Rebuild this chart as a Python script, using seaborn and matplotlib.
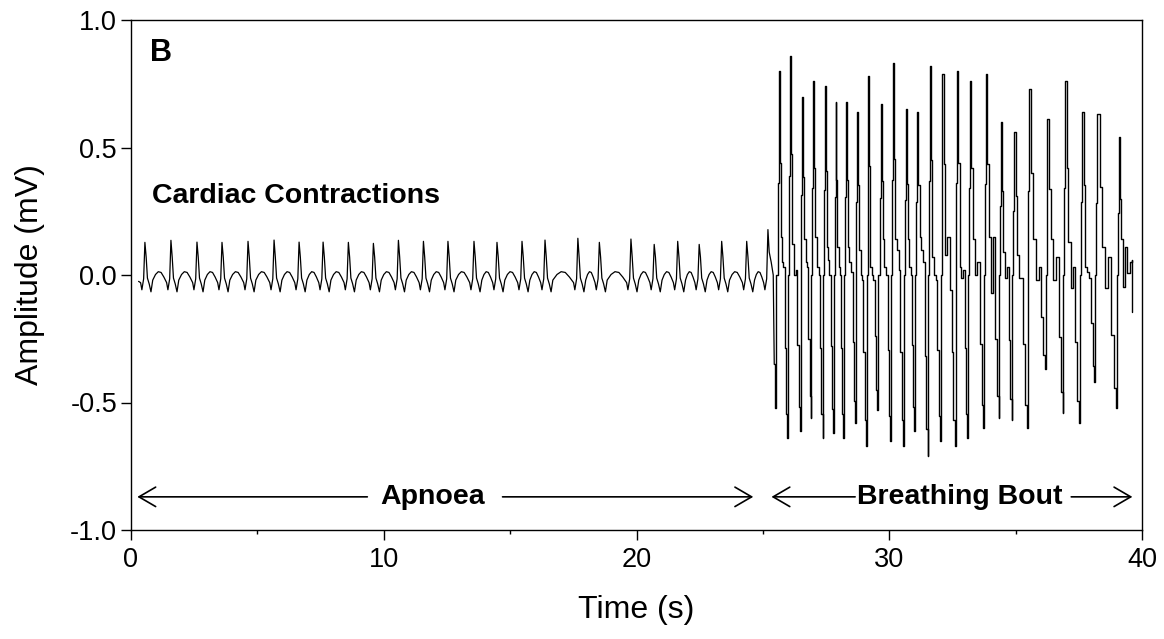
import numpy as np
import pandas as pd
import matplotlib
matplotlib.use("Agg")
import matplotlib.pyplot as plt
import seaborn as sns

# ---------------- data ----------------
# Apnoea: cardiac contraction spikes
beat_t = [0.55, 1.58, 2.61, 3.60, 4.63, 5.66, 6.65, 7.60, 8.60, 9.59, 10.58, 11.57,
          12.54, 13.57, 14.48, 15.47, 16.38, 17.68, 18.53, 19.78, 20.70, 21.63,
          22.48, 23.37, 24.36, 25.20]
beat_peak = [0.128, 0.136, 0.129, 0.128, 0.132, 0.137, 0.129, 0.129, 0.128, 0.124,
             0.136, 0.132, 0.132, 0.132, 0.128, 0.132, 0.137, 0.144, 0.128, 0.141,
             0.120, 0.132, 0.120, 0.132, 0.132, 0.178]
# shape of one beat (offsets in s from the spike, amplitudes in mV)
pre_off = [-0.17, -0.12, -0.05]
pre_val = [-0.030, -0.058, -0.015]
post_off = [0.05, 0.10, 0.17, 0.24, 0.31]
post_val = [0.070, -0.012, -0.035, -0.066, -0.020]
hump_frac = [0.2, 0.4, 0.6, 0.8]
hump_val = [0.002, 0.013, 0.010, -0.008]
start_t, start_v = 0.30, -0.025
# transition from last cardiac spike into breathing
trans_t = [25.25, 25.33, 25.41, 25.45]
trans_v = [0.09, 0.05, 0.0, -0.35]

# Breathing bout: troughs before each breath, peaks, and levels during fall
trough_t = [25.475, 25.937, 26.464, 26.887, 27.362, 27.757, 28.177, 28.639, 29.066,
            29.521, 30.036, 30.538, 30.993, 31.515, 32.002, 32.595, 33.081, 33.715,
            34.327, 34.838, 35.443, 36.175, 36.855, 37.512, 38.101, 38.964]
trough_v = [-0.52, -0.64, -0.61, -0.56, -0.64, -0.62, -0.64, -0.58, -0.67, -0.53,
            -0.65, -0.67, -0.61, -0.71, -0.65, -0.67, -0.64, -0.60, -0.56, -0.57,
            -0.60, -0.37, -0.54, -0.58, -0.42, -0.52]
peak_t = [25.645, 26.068, 26.555, 26.990, 27.453, 27.876, 28.283, 28.730, 29.173,
          29.656, 30.154, 30.645, 31.104, 31.606, 32.100, 32.686, 33.176, 33.821,
          34.415, 34.937, 35.534, 36.254, 36.954, 37.638, 38.232, 39.090]
peak_v = [0.80, 0.86, 0.70, 0.76, 0.74, 0.68, 0.68, 0.64, 0.78, 0.67, 0.83, 0.65,
          0.64, 0.82, 0.79, 0.80, 0.76, 0.79, 0.60, 0.56, 0.73, 0.61, 0.76, 0.64,
          0.63, 0.54]
sh1_v = [0.15, 0.12, 0.14, 0.15, 0.11, 0.11, 0.11, 0.10, 0.03, 0.14, 0.14, 0.14,
         0.15, 0.07, 0.08, 0.03, 0.14, 0.15, 0.09, 0.08, 0.14, 0.14, 0.13, 0.03, 0.11]
sh2_v = [0.05, 0.00, 0.05, 0.03, 0.06, 0.03, 0.05, 0.00, 0.00, 0.03, 0.10, 0.03,
         0.10, 0.00, 0.15, -0.01, 0.00, -0.07, -0.01, -0.01, -0.02, -0.02, -0.05,
         0.01, -0.05]
sh3_v = [0.03, 0.02, 0.03, 0.00, 0.00, 0.00, 0.01, -0.02, -0.02, 0.00, 0.02, 0.00,
         0.05, -0.02, -0.06, 0.02, 0.05, 0.15, 0.03, -0.01, 0.03, 0.07, 0.03, -0.01,
         0.07]
# staircase of each rise (fraction of trough->peak time, fraction of peak level)
rise_frac = [0.35, 0.70]
rise_level = [0.0, 0.45]
# staircase of each fall (fraction of peak->next trough time)
fall_frac = [0.12, 0.24, 0.40, 0.58, 0.74, 0.88]
fall_mid = 0.55          # first step of the fall, fraction of peak level
fall_low = 0.45          # last step before trough, fraction of trough level
tail_t = [39.12, 39.16, 39.23, 39.31, 39.41, 39.52, 39.60, 39.62]
tail_v = [0.30, 0.14, -0.046, 0.11, 0.007, 0.05, 0.06, -0.144]

x_ticks = [0, 10, 20, 30, 40]
x_minor = [5, 15, 25, 35]
y_ticks = [-1.0, -0.5, 0.0, 0.5, 1.0]
y_ticklabels = ["-1.0", "-0.5", "0.0", "0.5", "1.0"]

# ---------------- assemble traces ----------------
ta, va = [start_t], [start_v]
n_b = len(beat_t)
for i in range(n_b):
    tb, pb = beat_t[i], beat_peak[i]
    for o, v in zip(pre_off, pre_val):
        ta.append(tb + o); va.append(v)
    ta.append(tb); va.append(pb)
    if i < n_b - 1:
        for o, v in zip(post_off, post_val):
            ta.append(tb + o); va.append(v)
        a = tb + post_off[-1]
        b = beat_t[i + 1] + pre_off[0]
        for f, v in zip(hump_frac, hump_val):
            ta.append(a + f * (b - a)); va.append(v)
    else:
        ta += trans_t; va += trans_v

tr, vr = [ta[-1]], [va[-1]]
n_r = len(peak_t)
for i in range(n_r):
    tr.append(trough_t[i]); vr.append(trough_v[i])
    d = peak_t[i] - trough_t[i]
    for f, lv in zip(rise_frac, rise_level):
        tr.append(trough_t[i] + f * d); vr.append(lv * peak_v[i])
    tr.append(peak_t[i]); vr.append(peak_v[i])
    if i < n_r - 1:
        gap = trough_t[i + 1] - peak_t[i]
        levels = [fall_mid * peak_v[i], sh1_v[i], sh2_v[i], sh3_v[i],
                  fall_low * trough_v[i + 1], 0.85 * trough_v[i + 1]]
        for f, v in zip(fall_frac, levels):
            tr.append(peak_t[i] + f * gap); vr.append(v)
tr += tail_t; vr += tail_v

df_apnoea = pd.DataFrame({"Time": ta, "Amp": va})
df_breath = pd.DataFrame({"Time": tr, "Amp": vr})

# ---------------- plot ----------------
sns.set_style("ticks")
plt.rcParams["font.family"] = ["Liberation Sans", "DejaVu Sans"]
plt.rcParams["axes.unicode_minus"] = False
plt.rcParams["text.color"] = "black"
plt.rcParams["axes.labelcolor"] = "black"

fig = plt.figure(figsize=(11.64, 6.39), dpi=100)
ax = fig.add_axes([131 / 1164, 1 - 530 / 639, (1142 - 131) / 1164, (530 - 20) / 639])

sns.lineplot(data=df_apnoea, x="Time", y="Amp", sort=False, estimator=None,
             color="black", linewidth=0.9, ax=ax)
sns.lineplot(data=df_breath, x="Time", y="Amp", sort=False, estimator=None,
             color="black", linewidth=1.0, drawstyle="steps-post", ax=ax)

ax.set_xlim(0, 40)
ax.set_ylim(-1, 1)
ax.set_xticks(x_ticks)
ax.set_xticks(x_minor, minor=True)
ax.set_yticks(y_ticks)
ax.set_yticklabels(y_ticklabels)
ax.tick_params(axis="both", which="major", direction="out", length=7, width=1.0,
               labelsize=19.5, color="black", labelcolor="black")
ax.tick_params(axis="x", which="major", pad=5)
ax.tick_params(axis="y", which="major", pad=3)
ax.tick_params(axis="x", which="minor", direction="out", length=3, width=1.0, color="black")
for s in ax.spines.values():
    s.set_visible(True)
    s.set_color("black")
    s.set_linewidth(1.0)

ax.set_xlabel("Time (s)", fontsize=23, labelpad=16, color="black")
ax.set_ylabel("Amplitude (mV)", fontsize=23, labelpad=18, color="black")

ax.text(0.75, 0.87, "B", fontsize=22, fontweight="bold", ha="left", va="center",
        color="black")
ax.text(0.85, 0.31, "Cardiac Contractions", fontsize=20.5, fontweight="bold",
        ha="left", va="center", color="black")

arrow_y = -0.87
aprops = dict(arrowstyle="->,head_length=0.6,head_width=0.35", lw=1.2,
              color="black", mutation_scale=20, shrinkA=0, shrinkB=0)
ax.annotate("", xy=(0.25, arrow_y), xytext=(9.35, arrow_y), arrowprops=aprops)
ax.annotate("", xy=(24.62, arrow_y), xytext=(14.7, arrow_y), arrowprops=aprops)
ax.annotate("", xy=(25.34, arrow_y), xytext=(28.65, arrow_y), arrowprops=aprops)
ax.annotate("", xy=(39.62, arrow_y), xytext=(37.2, arrow_y), arrowprops=aprops)
ax.text(11.95, arrow_y, "Apnoea", fontsize=20.5, fontweight="bold", ha="center",
        va="center", color="black")
ax.text(32.8, arrow_y, "Breathing Bout", fontsize=20.5, fontweight="bold",
        ha="center", va="center", color="black")

fig.savefig("out.png", dpi=100)
